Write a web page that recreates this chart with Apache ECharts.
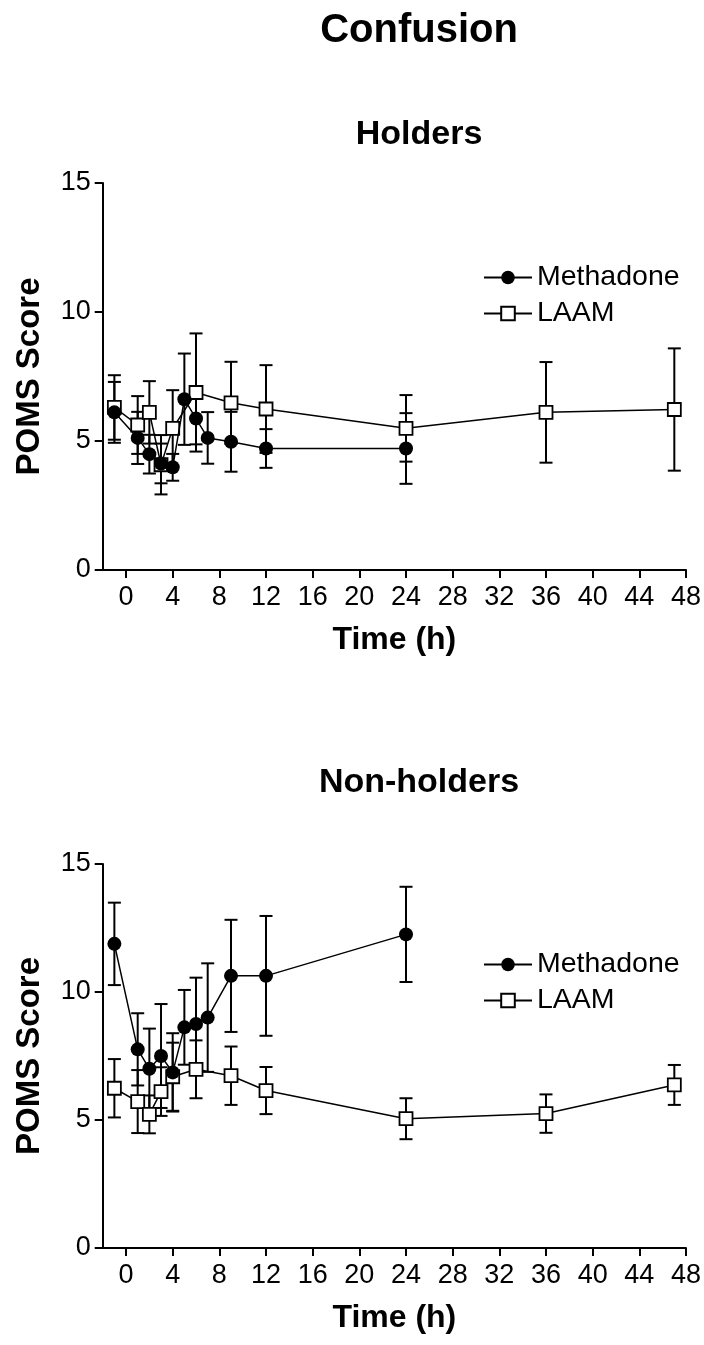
<!DOCTYPE html>
<html>
<head>
<meta charset="utf-8">
<script src="https://cdn.jsdelivr.net/npm/echarts@6/dist/echarts.min.js"></script>
<style>
  html, body { margin: 0; padding: 0; background: #fff; }
  #chart { width: 704px; height: 1345px; }
</style>
</head>
<body>
<div id="chart"></div>
<script>
// ---- data ----
const methTime = [-1, 1, 2, 3, 4, 5, 6, 7, 9, 12, 24];
const laamTime = [-1, 1, 2, 3, 4, 6, 9, 12, 24, 36, 47];

// Holders
const holdMeth = [6.11, 5.12, 4.49, 4.13, 3.98, 6.62, 5.87, 5.12, 4.97, 4.71, 4.71];
const holdMethErr = [1.18, 1.01, 0.75, 0.77, 0.52, 1.77, 1.0, 1.0, 1.16, 0.75, 1.37];
const holdLaam = [6.30, 5.62, 6.11, 4.08, 5.49, 6.88, 6.48, 6.24, 5.49, 6.11, 6.22];
const holdLaamErr = [1.25, 1.12, 1.21, 1.15, 1.48, 2.29, 1.59, 1.70, 1.29, 1.95, 2.37];

// Non-holders
const nonMeth = [11.88, 7.76, 7.00, 7.50, 6.86, 8.62, 8.75, 9.00, 10.63, 10.63, 12.25];
const nonMethErr = [1.61, 1.41, 1.57, 2.03, 1.53, 1.46, 1.81, 2.12, 2.19, 2.34, 1.86];
const nonLaam = [6.24, 5.72, 5.22, 6.11, 6.69, 6.98, 6.73, 6.15, 5.05, 5.25, 6.37];
const nonLaamErr = [1.14, 1.23, 0.74, 0.95, 1.33, 1.13, 1.14, 0.92, 0.80, 0.75, 0.78];

const xTicks = [0, 4, 8, 12, 16, 20, 24, 28, 32, 36, 40, 44, 48];

const FONT = "'Liberation Sans', Arial, Helvetica, sans-serif";

function pairs(t, v) {
    return t.map(function (x, i) { return [x, v[i]]; });
}
function bars(t, v, e) {
    return t.map(function (x, i) { return [x, v[i] - e[i], v[i] + e[i]]; });
}

// SEM whiskers
function errRender(params, api) {
    const x = api.value(0);
    const lo = api.coord([x, api.value(1)]);
    const hi = api.coord([x, api.value(2)]);
    const w = 6.5;
    const st = { stroke: '#000', lineWidth: 2 };
    return {
        type: 'group',
        children: [
            { type: 'line', shape: { x1: lo[0], y1: lo[1], x2: hi[0], y2: hi[1] }, style: st },
            { type: 'line', shape: { x1: hi[0] - w, y1: hi[1], x2: hi[0] + w, y2: hi[1] }, style: st },
            { type: 'line', shape: { x1: lo[0] - w, y1: lo[1], x2: lo[0] + w, y2: lo[1] }, style: st }
        ]
    };
}

function xAxis(idx) {
    return {
        type: 'value', gridIndex: idx, min: -2, max: 48,
        name: 'Time (h)', nameLocation: 'middle', nameGap: 54,
        nameTextStyle: { fontFamily: FONT, fontSize: 32, fontWeight: 'bold', color: '#000' },
        axisLine: { onZero: false, lineStyle: { color: '#000', width: 2 } },
        axisTick: { show: true, length: 8, customValues: xTicks, lineStyle: { color: '#000', width: 2 } },
        axisLabel: { customValues: xTicks, margin: 14, fontFamily: FONT, fontSize: 27, color: '#000' },
        splitLine: { show: false }
    };
}
function yAxis(idx) {
    return {
        type: 'value', gridIndex: idx, min: 0, max: 15, interval: 5,
        name: 'POMS Score', nameLocation: 'middle', nameGap: 56,
        nameTextStyle: { fontFamily: FONT, fontSize: 33, fontWeight: 'bold', color: '#000' },
        axisLine: { show: true, onZero: false, lineStyle: { color: '#000', width: 2 } },
        axisTick: { show: true, length: 8, lineStyle: { color: '#000', width: 2 } },
        axisLabel: { margin: 12, fontFamily: FONT, fontSize: 27, color: '#000' },
        splitLine: { show: false }
    };
}

function groupSeries(idx, mv, me, lv, le) {
    return [
        {
            type: 'custom', name: 'errM' + idx, xAxisIndex: idx, yAxisIndex: idx, z: 1,
            renderItem: errRender, data: bars(methTime, mv, me), encode: { x: 0, y: [1, 2] }
        },
        {
            type: 'custom', name: 'errL' + idx, xAxisIndex: idx, yAxisIndex: idx, z: 1,
            renderItem: errRender, data: bars(laamTime, lv, le), encode: { x: 0, y: [1, 2] }
        },
        {
            type: 'line', name: 'LAAM', xAxisIndex: idx, yAxisIndex: idx, z: 3,
            data: pairs(laamTime, lv), symbol: 'rect', symbolSize: 13,
            lineStyle: { color: '#000', width: 1.5 },
            itemStyle: { color: '#fff', borderColor: '#000', borderWidth: 1.8 },
            emphasis: { disabled: true }
        },
        {
            type: 'line', name: 'Methadone', xAxisIndex: idx, yAxisIndex: idx, z: 4,
            data: pairs(methTime, mv), symbol: 'circle', symbolSize: 14,
            lineStyle: { color: '#000', width: 1.5 },
            itemStyle: { color: '#000', borderColor: '#000', borderWidth: 0 },
            emphasis: { disabled: true }
        }
    ];
}

function legend(top) {
    return {
        orient: 'vertical', left: 478, top: top,
        data: ['Methadone', 'LAAM'],
        itemWidth: 48, itemHeight: 17, itemGap: 7,
        selectedMode: false,
        textStyle: { fontFamily: FONT, fontSize: 28.5, color: '#000' }
    };
}

function title(text, y, size) {
    return {
        type: 'text', x: 419, y: y,
        style: {
            text: text, fontFamily: FONT, fontSize: size, fontWeight: 'bold',
            fill: '#000', textAlign: 'center', textVerticalAlign: 'middle'
        }
    };
}

const chart = echarts.init(document.getElementById('chart'));
chart.setOption({
    backgroundColor: '#fff',
    animation: false,
    graphic: [
        title('Confusion', 31, 40),
        title('Holders', 135, 34),
        title('Non-holders', 783, 34)
    ],
    legend: [legend(258), legend(945)],
    grid: [
        { left: 102.7, top: 183, width: 586.9, height: 387 },
        { left: 102.7, top: 864, width: 586.9, height: 384 }
    ],
    xAxis: [xAxis(0), xAxis(1)],
    yAxis: [yAxis(0), yAxis(1)],
    series: [].concat(
        groupSeries(0, holdMeth, holdMethErr, holdLaam, holdLaamErr),
        groupSeries(1, nonMeth, nonMethErr, nonLaam, nonLaamErr)
    )
});
</script>
</body>
</html>
